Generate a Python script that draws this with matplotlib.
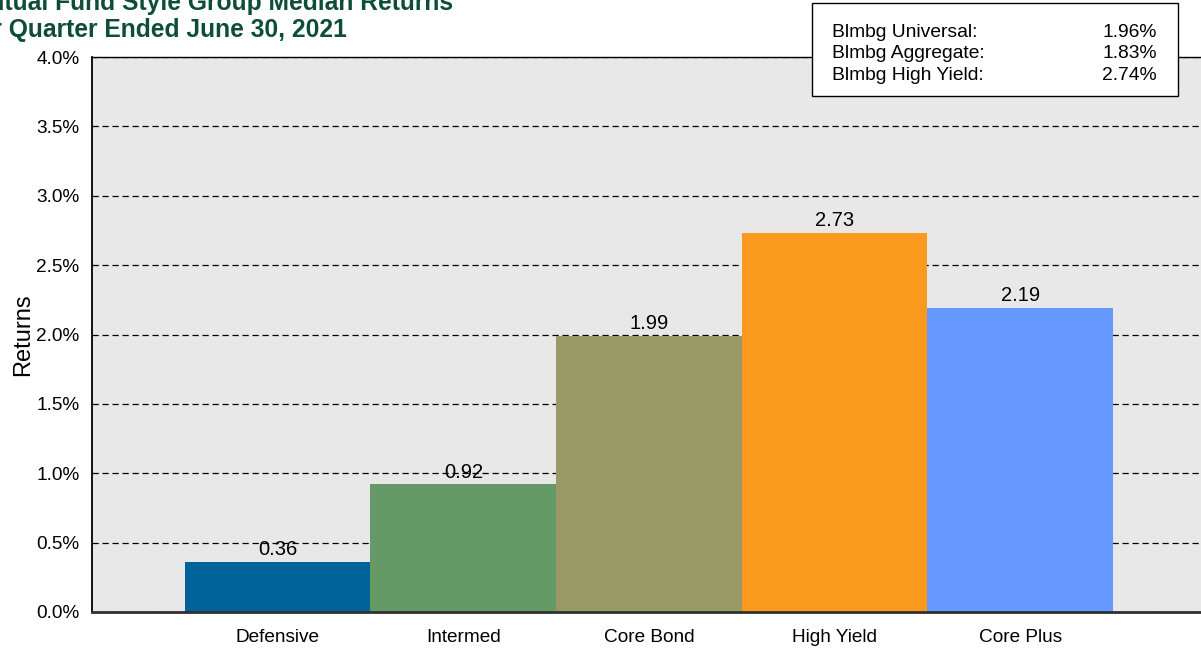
import matplotlib.pyplot as plt
from matplotlib.ticker import FuncFormatter

# Data.
categories = ["Defensive", "Intermed", "Core Bond", "High Yield", "Core Plus"]
returns = [0.36, 0.92, 1.99, 2.73, 2.19]
bar_colors = ["#00639A", "#659966", "#999966", "#F99A1E", "#6699FF"]
index_names = ["Blmbg Universal:", "Blmbg Aggregate:", "Blmbg High Yield:"]
index_values = ["1.96%", "1.83%", "2.74%"]

plt.rcParams["font.family"] = ["Liberation Sans", "DejaVu Sans"]

fig = plt.figure(figsize=(12.01, 6.48), dpi=100)
ax = fig.add_axes([92 / 1201, 1 - 612 / 648, (1206 - 92) / 1201, (612 - 57) / 648])
ax.set_facecolor("#E8E8E8")

x = range(len(categories))
bars = ax.bar(x, returns, width=1.0, color=bar_colors, zorder=2)
for xi, v in zip(x, returns):
    ax.text(xi, v + 0.02, f"{v:.2f}", ha="center", va="bottom", fontsize=14.5, zorder=3)

ax.set_xlim(-1, 5)
ax.set_ylim(0, 4.0)
ax.set_yticks([i * 0.5 for i in range(9)])
ax.yaxis.set_major_formatter(FuncFormatter(lambda v, p: f"{v:.1f}%"))
ax.set_xticks(list(x))
ax.set_xticklabels(categories)
ax.tick_params(axis="both", length=0, labelsize=13.7)
ax.tick_params(axis="x", pad=12)
ax.tick_params(axis="y", pad=9)
ax.set_axisbelow(True)
ax.yaxis.grid(True, linestyle=(0, (5, 3)), color="black", linewidth=0.9)

ax.spines["left"].set_linewidth(1.3)
ax.spines["top"].set_linewidth(1.0)
ax.spines["bottom"].set_linewidth(2.0)
ax.spines["bottom"].set_color("#303030")
ax.spines["right"].set_visible(False)

ax.set_ylabel("Returns", fontsize=17)
ax.yaxis.set_label_coords(-58 / 1114, 0.5)

# Title, partly cut off at the left edge as in the reference.
title_color = "#0E4D3A"
fig.text(-31 / 1201, 1 - 10 / 648, "Mutual Fund Style Group Median Returns",
         fontsize=17.7, fontweight="bold", color=title_color, ha="left", va="baseline")
fig.text(-31 / 1201, 1 - 37 / 648, "for Quarter Ended June 30, 2021",
         fontsize=17.7, fontweight="bold", color=title_color, ha="left", va="baseline")

# Index returns box.
box = plt.Rectangle((812 / 1201, 1 - 96 / 648), (1178 - 812) / 1201, (96 - 3) / 648,
                    transform=fig.transFigure, facecolor="white", edgecolor="black",
                    linewidth=1.0, zorder=5)
fig.patches.append(box)
for i, (name, val) in enumerate(zip(index_names, index_values)):
    yb = 1 - (37 + i * 21.5) / 648
    fig.text(832 / 1201, yb, name, fontsize=13.9, ha="left", va="baseline", zorder=6)
    fig.text(1157 / 1201, yb, val, fontsize=13.9, ha="right", va="baseline", zorder=6)

fig.savefig("out.png", dpi=100)
